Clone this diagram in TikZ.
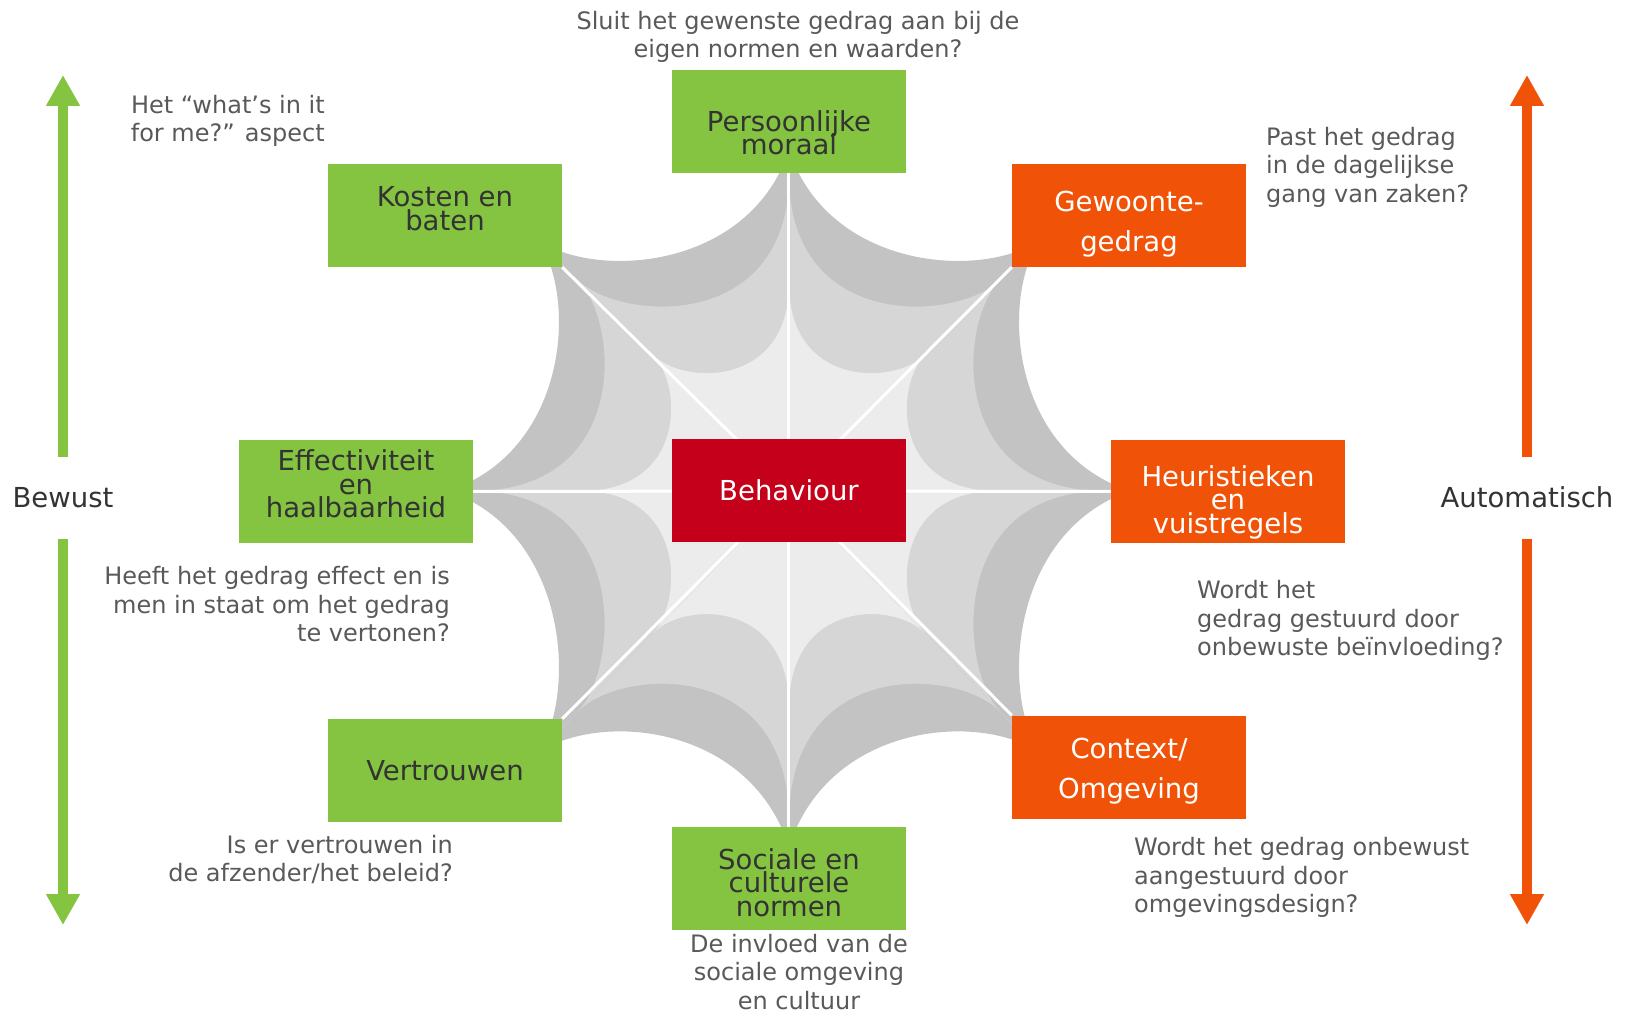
\documentclass[tikz,border=0pt]{standalone}
\usepackage{fontspec}
\setmainfont{DejaVu Sans}
\usepackage{xcolor}
\usepackage{tikz}
\usetikzlibrary{arrows.meta,backgrounds}

\definecolor{boxgreen}{RGB}{132,196,65}
\definecolor{boxorange}{RGB}{240,83,8}
\definecolor{boxred}{RGB}{196,0,26}
\definecolor{webdark}{RGB}{195,195,195}
\definecolor{webmid}{RGB}{214,214,214}
\definecolor{weblight}{RGB}{236,236,236}
\definecolor{asktext}{RGB}{89,89,89}
\definecolor{labeltext}{RGB}{51,51,51}

\newcommand{\boxfont}{\fontsize{27.5}{23.5}\selectfont\lineskiplimit=-100pt\relax}
\newcommand{\wideboxfont}{\fontsize{27.5}{40}\selectfont\lineskiplimit=-100pt\relax}
\newcommand{\boxline}[2]{\raisebox{#1}[0pt][0pt]{#2}}
\newcommand{\webpiece}{%
	\fill[webdark] (0,0) -- (-250,250) .. controls (-189,211) and (-39,223) .. (0,341) -- cycle;
	\fill[webmid] (0,0) -- (-211,211) .. controls (-170,170) and (-2,158) .. (0,313) -- cycle;
	\fill[weblight] (0,0) -- (-136,136) .. controls (-106,106) and (-1,103) .. (0,206) -- cycle;
}

\begin{document}
\begin{tikzpicture}[x=1pt,y=1pt,
		box/.style={minimum width=234pt,minimum height=103pt,inner sep=0pt,align=center,font=\boxfont},
		greenbox/.style={box,fill=boxgreen,text=labeltext},
		orangebox/.style={box,fill=boxorange,text=white},
		ask/.style={inner sep=0pt,text=asktext,font=\fontsize{24}{28.5}\selectfont},
		side/.style={text=labeltext,font=\fontsize{27.5}{30}\selectfont,text height=20pt,text depth=0pt,inner xsep=0pt,inner ysep=31pt},
		spoke/.style={white,line width=3pt},
		greenarrow/.style={boxgreen,line width=10pt,-{Triangle[width=32pt,length=31pt]}},
		orangearrow/.style={boxorange,line width=10pt,-{Triangle[width=32pt,length=31pt]}}]
	\useasboundingbox (-789,-523) rectangle (841,491);

	\node[box,fill=boxred,text=white] (behav) at (0,0) {\boxline{-10pt}{Behaviour}};
	\node[greenbox] (moraal) at (0,369.5) {\boxline{-21.5pt}{Persoonlijke}\\\boxline{-21.5pt}{moraal}};
	\node[greenbox] (kosten) at (-344,275.5) {\boxline{-3pt}{Kosten en}\\\boxline{-3pt}{baten}};
	\node[orangebox,font=\wideboxfont] (gewoonte) at (340,275.5) {\boxline{-16.5pt}{Gewoonte-}\\\boxline{-16.5pt}{gedrag}};
	\node[greenbox] (effect) at (-433,-0.5) {\boxline{-3pt}{Effectiviteit}\\\boxline{-3pt}{en}\\\boxline{-3pt}{haalbaarheid}};
	\node[orangebox] (heur) at (439,-0.5) {\boxline{-18.5pt}{Heuristieken}\\\boxline{-18.5pt}{en}\\\boxline{-18.5pt}{vuistregels}};
	\node[greenbox] (vertr) at (-344,-279.5) {\boxline{-10pt}{Vertrouwen}};
	\node[orangebox,font=\wideboxfont] (context) at (340,-276) {\boxline{-11pt}{Context/}\\\boxline{-11pt}{Omgeving}};
	\node[greenbox] (sociale) at (0,-387.5) {\boxline{-14pt}{Sociale en}\\\boxline{-14pt}{culturele}\\\boxline{-14pt}{normen}};

	\node[ask,align=center] (moraalq) at (9,454) {Sluit het gewenste gedrag aan bij de\\eigen normen en waarden?};
	\node[ask,align=right,anchor=east] (kostenq) at (-464,370) {Het “what’s in it\\for me?” aspect};
	\node[ask,align=left,anchor=west] (gewoonteq) at (477,324) {Past het gedrag\\in de dagelijkse\\gang van zaken?};
	\node[ask,align=right,anchor=east] (effectq) at (-339,-113.4) {Heeft het gedrag effect en is\\men in staat om het gedrag\\te vertonen?};
	\node[ask,align=left,anchor=west] (heurq) at (408,-129.75) {Wordt het\\gedrag gestuurd door\\onbewuste beïnvloeding?};
	\node[ask,align=right,anchor=east] (vertrq) at (-336,-368.4) {Is er vertrouwen in\\de afzender/het beleid?};
	\node[ask,align=left,anchor=west] (contextq) at (345,-386.75) {Wordt het gedrag onbewust\\aangestuurd door\\omgevingsdesign?};
	\node[ask,align=center] (socialeq) at (10,-480.9) {De invloed van de\\sociale omgeving\\en cultuur};

	\node[side] (bewust) at (-726,-7) {Bewust};
	\node[side] (auto) at (738,-7) {Automatisch};
	\coordinate (bewusttop) at (-726,416);
	\coordinate (bewustbottom) at (-726,-434);
	\coordinate (autotop) at (738,416);
	\coordinate (autobottom) at (738,-434);
	\draw[greenarrow] (bewust) -- (bewusttop);
	\draw[greenarrow] (bewust) -- (bewustbottom);
	\draw[orangearrow] (auto) -- (autotop);
	\draw[orangearrow] (auto) -- (autobottom);

	\begin{pgfonlayer}{background}
		\webpiece
		\begin{scope}[xscale=-1] \webpiece \end{scope}
		\begin{scope}[cm={0,-1,-1,0,(0,0)}] \webpiece \end{scope}
		\begin{scope}[cm={0,-1,1,0,(0,0)}] \webpiece \end{scope}
		\begin{scope}[yscale=1.045]
			\begin{scope}[yscale=-1] \webpiece \end{scope}
			\begin{scope}[scale=-1] \webpiece \end{scope}
			\begin{scope}[cm={0,1,1,0,(0,0)}] \webpiece \end{scope}
			\begin{scope}[cm={0,1,-1,0,(0,0)}] \webpiece \end{scope}
		\end{scope}
		\draw[spoke] (behav.center) -- (moraal.south);
		\draw[spoke] (behav.center) -- (sociale.north);
		\draw[spoke] (behav.center) -- (effect.east);
		\draw[spoke] (behav.center) -- (heur.west);
		\draw[spoke] (behav.center) -- (kosten.south east);
		\draw[spoke] (behav.center) -- (gewoonte.south west);
		\draw[spoke] (behav.center) -- (vertr.north east);
		\draw[spoke] (behav.center) -- (context.north west);
	\end{pgfonlayer}
\end{tikzpicture}
\end{document}
